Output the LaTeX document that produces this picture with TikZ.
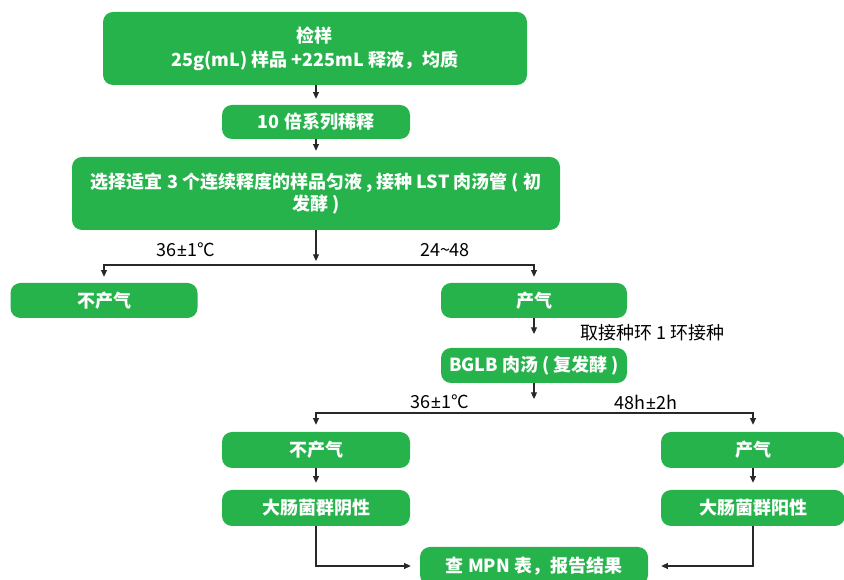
\documentclass[tikz,border=0pt]{standalone}
\usepackage{fontspec}
\setmainfont{Noto Sans CJK SC}
\newfontfamily\latfont{Noto Sans}
\usetikzlibrary{arrows.meta}
\definecolor{boxgreen}{RGB}{38,179,76}
\definecolor{linecol}{RGB}{40,40,40}
\begin{document}
\begin{tikzpicture}[x=0.75pt,y=-0.75pt,
  box/.style={draw=none, fill=boxgreen, rounded corners=7.5pt, text=white,
    font=\fontsize{13.5pt}{17pt}\selectfont\bfseries, align=center, inner sep=0pt},
  sz/.style 2 args={minimum width=#1*0.75pt, minimum height=#2*0.75pt},
  arr/.style={draw=linecol, line width=0.8pt, -{Triangle[length=5pt,width=4.5pt]}},
  gap/.style={shorten >=#1*0.75pt},
  lbl/.style={font=\fontsize{13.5pt}{16pt}\selectfont, text=black, inner sep=0pt}
]
\useasboundingbox (0,0) rectangle (844,580);
\clip (0,0) rectangle (844,580);

\node[box, sz={424}{73}] (n1) at (315,48.5) {检样\\[1pt]25g(mL) 样品 +225mL 释液，均质};
\node[box, sz={188}{34}] (n2) at (316,122) {10 倍系列稀释};
\node[box, sz={488}{73}] (n3) at (316,193.5) {选择适宜 3 个连续释度的样品匀液 , 接种 LST 肉汤管 ( 初\\发酵 )};
\node[box, sz={187}{35}] (n4) at (104,300.5) {不产气};
\node[box, sz={186}{35}] (n5) at (534,300.5) {产气};
\node[box, sz={186}{35}] (n6) at (534,365.5) {BGLB 肉汤 ( 复发酵 )};
\node[box, sz={188}{36}] (n7) at (316,450) {不产气};
\node[box, sz={184}{36}] (n8) at (753,450) {产气};
\node[box, sz={188}{36}] (n9) at (316,508) {大肠菌群阴性};
\node[box, sz={184}{36}] (n10) at (753,508) {大肠菌群阳性};
\node[box, sz={228}{38}] (n11) at (534,566) {查 MPN 表，报告结果};

\coordinate (j1) at (316,265);
\coordinate (j1a) at (316,261);
\coordinate (j2a) at (534,334);
\coordinate (j2b) at (534,399);
\coordinate (j2) at (534,413);

\draw[arr, gap=6] (n1.south -| n2.north) -- (n2.north);
\draw[arr, gap=6] (n2.south) -- (n3.north);
\draw[arr] (n3.south) -- (j1a);
\draw[arr, gap=6] (j1) -| (n4.north);
\draw[arr, gap=6] (j1) -| (n5.north);
\draw[arr] (n5.south) -- (j2a);
\draw[arr] (n6.south) -- (j2b);
\draw[arr, gap=7] (j2) -| (n7.north);
\draw[arr, gap=7] (j2) -| (n8.north);
\draw[arr, gap=7] (n7.south) -- (n9.north);
\draw[arr, gap=7] (n8.south) -- (n10.north);
\draw[arr, gap=9] (n9.south) |- (n11.west);
\draw[arr, gap=13] (n10.south) |- (n11.east);

\node[lbl] (l1) at (186,250) {36{\latfont ±}1°C};
\node[lbl] (l2) at (445,250) {24\textasciitilde48};
\node[lbl, anchor=west] (l3) at (580,333) {取接种环 1 环接种};
\node[lbl] (l4) at (440,402) {36{\latfont ±}1°C};
\node[lbl] (l5) at (646,402) {48h{\latfont ±}2h};
\end{tikzpicture}
\end{document}
